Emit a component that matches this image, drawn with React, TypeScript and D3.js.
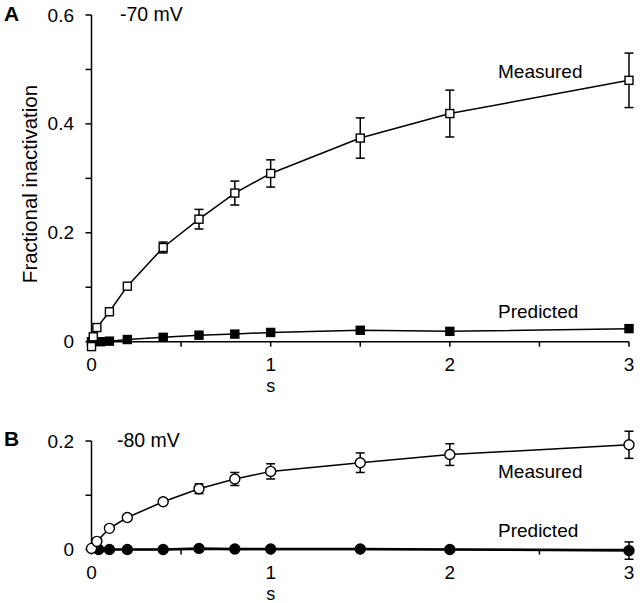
import React from "react";
import * as d3 from "d3";

// Panel A (-70 mV)
const tMeasA = [0, 0.01, 0.03, 0.1, 0.2, 0.4, 0.6, 0.8, 1.0, 1.5, 2, 3];
const measA = [-0.009, 0.009, 0.026, 0.055, 0.102, 0.173, 0.225, 0.273, 0.309, 0.374, 0.419, 0.48];
const errA = [0, 0, 0, 0, 0, 0.01, 0.018, 0.022, 0.025, 0.037, 0.043, 0.05];
const tPredA = [0, 0.05, 0.1, 0.2, 0.4, 0.6, 0.8, 1.0, 1.5, 2, 3];
const predA = [0, 0, 0.001, 0.004, 0.008, 0.012, 0.014, 0.017, 0.021, 0.019, 0.024];

// Panel B (-80 mV)
const tMeasB = [0, 0.03, 0.1, 0.2, 0.4, 0.6, 0.8, 1.0, 1.5, 2, 3];
const measB = [0.002, 0.015, 0.039, 0.059, 0.088, 0.112, 0.13, 0.144, 0.16, 0.175, 0.193];
const errB = [0, 0, 0, 0, 0, 0.009, 0.012, 0.014, 0.018, 0.02, 0.025];
const tPredB = [0.04, 0.1, 0.2, 0.4, 0.6, 0.8, 1.0, 1.5, 2, 3];
const predB = [0, 0, 0, 0, 0.002, 0.001, 0.001, 0.001, 0, -0.002];
const errPredB = [0, 0, 0, 0, 0, 0, 0, 0, 0, 0.016];

const xTicks = [0, 0.5, 1, 1.5, 2, 2.5, 3];
const xTickLabels = [0, 1, 2, 3];
const yTicksA = [0, 0.1, 0.2, 0.3, 0.4, 0.5, 0.6];
const yLabelsA = [0, 0.2, 0.4, 0.6];
const yTicksB = [0, 0.1, 0.2];
const yLabelsB = [0, 0.2];

const FONT = "Liberation Sans, Arial, Helvetica, sans-serif";

type PanelProps = {
  y0: number;
  y1: number;
  ymax: number;
  yTicks: number[];
  yLabels: number[];
  tMeas: number[];
  meas: number[];
  err: number[];
  tPred: number[];
  pred: number[];
  errPred?: number[];
  shape: "square" | "circle";
  predWidth: number;
};

function Panel(p: PanelProps) {
  const x = d3.scaleLinear().domain([0, 3]).range([91.5, 629]);
  const y = d3.scaleLinear().domain([0, p.ymax]).range([p.y0, p.y1]);
  const line = d3
    .line<[number, number]>()
    .x((d) => x(d[0]))
    .y((d) => y(d[1]));
  const measPts = p.tMeas.map((t, i) => [t, p.meas[i]] as [number, number]);
  const predPts = p.tPred.map((t, i) => [t, p.pred[i]] as [number, number]);
  const fmt = (v: number) => (v === 0 ? "0" : d3.format(".1f")(v));
  const cap = 4.5;
  const s = 8;

  const marker = (t: number, v: number, filled: boolean, key: string) =>
    p.shape === "square" ? (
      <rect
        key={key}
        x={x(t) - s / 2}
        y={y(v) - s / 2}
        width={s}
        height={s}
        fill={filled ? "#000" : "#fff"}
        stroke="#000"
        strokeWidth={1.4}
      />
    ) : (
      <circle
        key={key}
        cx={x(t)}
        cy={y(v)}
        r={5}
        fill={filled ? "#000" : "#fff"}
        stroke="#000"
        strokeWidth={1.4}
      />
    );

  const errBar = (t: number, v: number, e: number, key: string) =>
    e > 0 ? (
      <g key={key} stroke="#000" strokeWidth={1.5}>
        <line x1={x(t)} x2={x(t)} y1={y(v - e)} y2={y(v + e)} />
        <line x1={x(t) - cap} x2={x(t) + cap} y1={y(v - e)} y2={y(v - e)} />
        <line x1={x(t) - cap} x2={x(t) + cap} y1={y(v + e)} y2={y(v + e)} />
      </g>
    ) : null;

  return (
    <g fontFamily={FONT}>
      <line x1={x(0)} x2={x(0)} y1={y(p.ymax)} y2={y(0) + 1} stroke="#000" strokeWidth={1.5} />
      <line x1={x(0)} x2={x(3)} y1={y(0)} y2={y(0)} stroke="#000" strokeWidth={1.5} />
      {p.yTicks.map((v) => (
        <line key={"yt" + v} x1={x(0) - 6} x2={x(0)} y1={y(v)} y2={y(v)} stroke="#000" strokeWidth={1.5} />
      ))}
      {p.yLabels.map((v) => (
        <text key={"yl" + v} x={74} y={y(v) + 6.5} textAnchor="end" fontSize={19}>
          {fmt(v)}
        </text>
      ))}
      {xTicks.map((v) => (
        <line key={"xt" + v} x1={x(v)} x2={x(v)} y1={y(0)} y2={y(0) + 5} stroke="#000" strokeWidth={1.5} />
      ))}
      {xTickLabels.map((v) => (
        <text key={"xl" + v} x={x(v)} y={y(0) + 29.5} textAnchor="middle" fontSize={19}>
          {v}
        </text>
      ))}
      <text x={x(1)} y={y(0) + 50} textAnchor="middle" fontSize={18}>
        s
      </text>
      {/* predicted */}
      <path d={line(predPts) || ""} fill="none" stroke="#000" strokeWidth={p.predWidth} />
      {p.tPred.map((t, i) => errBar(t, p.pred[i], p.errPred ? p.errPred[i] : 0, "pe" + i))}
      {p.tPred.map((t, i) => marker(t, p.pred[i], true, "pm" + i))}
      {/* measured */}
      <path d={line(measPts) || ""} fill="none" stroke="#000" strokeWidth={1.5} />
      {p.tMeas.map((t, i) => errBar(t, p.meas[i], p.err[i], "me" + i))}
      {p.tMeas.map((t, i) => marker(t, p.meas[i], false, "mm" + i))}
    </g>
  );
}

export default function App() {
  return (
    <svg
      width={640}
      height={603}
      viewBox="0 0 640 603"
      style={{ position: "absolute", left: 0, top: 0, background: "#fff" }}
    >
      <rect width={640} height={603} fill="#fff" />
      <Panel
        y0={341.7}
        y1={15}
        ymax={0.6}
        yTicks={yTicksA}
        yLabels={yLabelsA}
        tMeas={tMeasA}
        meas={measA}
        err={errA}
        tPred={tPredA}
        pred={predA}
        shape="square"
        predWidth={1.5}
      />
      <Panel
        y0={549.5}
        y1={441}
        ymax={0.2}
        yTicks={yTicksB}
        yLabels={yLabelsB}
        tMeas={tMeasB}
        meas={measB}
        err={errB}
        tPred={tPredB}
        pred={predB}
        errPred={errPredB}
        shape="circle"
        predWidth={2.5}
      />
      <g fontFamily={FONT}>
        <text x={4} y={21} fontSize={21} fontWeight="bold">A</text>
        <text x={4} y={446} fontSize={21} fontWeight="bold">B</text>
        <text x={120} y={21} fontSize={19.5}>-70 mV</text>
        <text x={117} y={447} fontSize={19.5}>-80 mV</text>
        <text x={498} y={78} fontSize={19}>Measured</text>
        <text x={498} y={318} fontSize={19}>Predicted</text>
        <text x={498} y={478} fontSize={19}>Measured</text>
        <text x={498} y={537} fontSize={19}>Predicted</text>
        <text
          transform="translate(37,184) rotate(-90)"
          textAnchor="middle"
          fontSize={20.5}
        >
          Fractional inactivation
        </text>
      </g>
    </svg>
  );
}
